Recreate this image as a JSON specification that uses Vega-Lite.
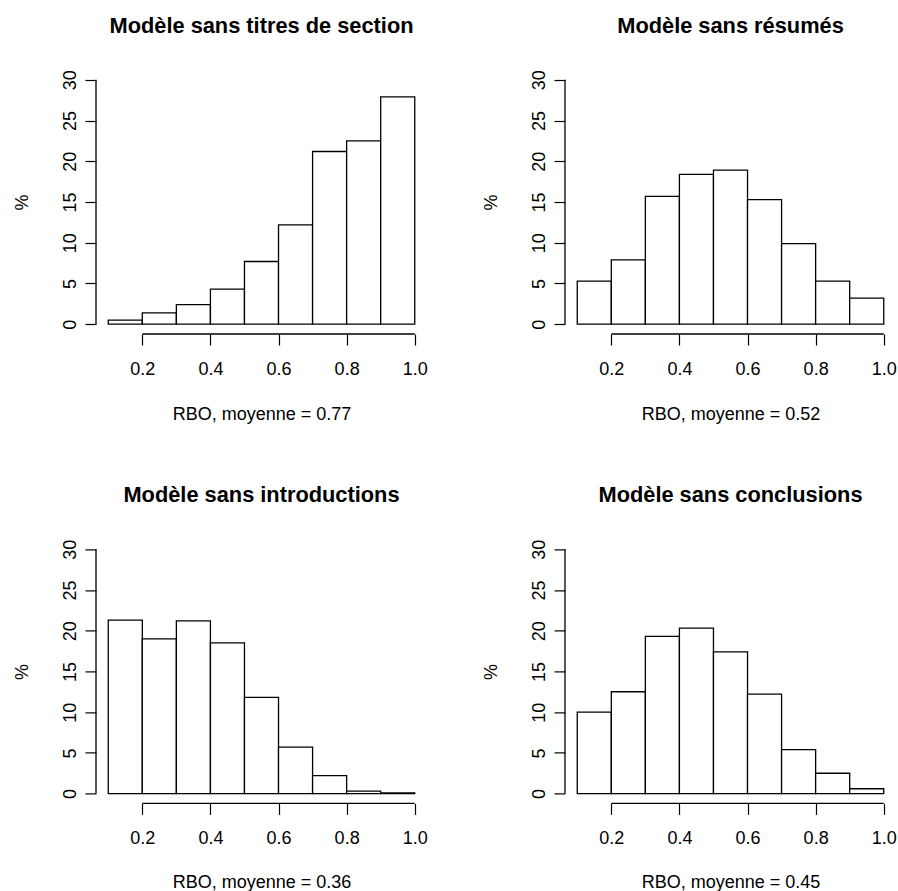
{
  "$schema": "https://vega.github.io/schema/vega-lite/v6.json",
  "autosize": {"type": "pad"},
  "padding": {"left": 13, "top": 15, "right": 0, "bottom": 0},
  "background": "white",
  "config": {
    "font": "Liberation Sans",
    "view": {"stroke": null},
    "axis": {
      "domain": false, "grid": false, "tickColor": "black", "tickSize": 11, "tickWidth": 1.2,
      "labelColor": "black", "labelFontSize": 18, "labelFont": "Liberation Sans",
      "titleFontSize": 18, "titleFontWeight": "normal", "titleColor": "black", "titleFont": "Liberation Sans",
      "labelOverlap": false, "labelFlush": false, "labelBound": false
    },
    "title": {"fontSize": 21.8, "fontWeight": "bold", "color": "black", "font": "Liberation Sans", "anchor": "middle", "frame": "group", "baseline": "alphabetic", "offset": 32}
  },
  "data": {"values": [
    {"panel": 1, "lo": 0.1, "hi": 0.2, "pct": 0.5},
    {"panel": 1, "lo": 0.2, "hi": 0.3, "pct": 1.4},
    {"panel": 1, "lo": 0.3, "hi": 0.4, "pct": 2.4},
    {"panel": 1, "lo": 0.4, "hi": 0.5, "pct": 4.3},
    {"panel": 1, "lo": 0.5, "hi": 0.6, "pct": 7.7},
    {"panel": 1, "lo": 0.6, "hi": 0.7, "pct": 12.2},
    {"panel": 1, "lo": 0.7, "hi": 0.8, "pct": 21.2},
    {"panel": 1, "lo": 0.8, "hi": 0.9, "pct": 22.5},
    {"panel": 1, "lo": 0.9, "hi": 1.0, "pct": 27.9},
    {"panel": 2, "lo": 0.1, "hi": 0.2, "pct": 5.3},
    {"panel": 2, "lo": 0.2, "hi": 0.3, "pct": 7.9},
    {"panel": 2, "lo": 0.3, "hi": 0.4, "pct": 15.7},
    {"panel": 2, "lo": 0.4, "hi": 0.5, "pct": 18.4},
    {"panel": 2, "lo": 0.5, "hi": 0.6, "pct": 18.9},
    {"panel": 2, "lo": 0.6, "hi": 0.7, "pct": 15.3},
    {"panel": 2, "lo": 0.7, "hi": 0.8, "pct": 9.9},
    {"panel": 2, "lo": 0.8, "hi": 0.9, "pct": 5.3},
    {"panel": 2, "lo": 0.9, "hi": 1.0, "pct": 3.2},
    {"panel": 3, "lo": 0.1, "hi": 0.2, "pct": 21.3},
    {"panel": 3, "lo": 0.2, "hi": 0.3, "pct": 19.0},
    {"panel": 3, "lo": 0.3, "hi": 0.4, "pct": 21.2},
    {"panel": 3, "lo": 0.4, "hi": 0.5, "pct": 18.5},
    {"panel": 3, "lo": 0.5, "hi": 0.6, "pct": 11.8},
    {"panel": 3, "lo": 0.6, "hi": 0.7, "pct": 5.7},
    {"panel": 3, "lo": 0.7, "hi": 0.8, "pct": 2.2},
    {"panel": 3, "lo": 0.8, "hi": 0.9, "pct": 0.3},
    {"panel": 3, "lo": 0.9, "hi": 1.0, "pct": 0.1},
    {"panel": 4, "lo": 0.1, "hi": 0.2, "pct": 10.0},
    {"panel": 4, "lo": 0.2, "hi": 0.3, "pct": 12.5},
    {"panel": 4, "lo": 0.3, "hi": 0.4, "pct": 19.3},
    {"panel": 4, "lo": 0.4, "hi": 0.5, "pct": 20.3},
    {"panel": 4, "lo": 0.5, "hi": 0.6, "pct": 17.4},
    {"panel": 4, "lo": 0.6, "hi": 0.7, "pct": 12.2},
    {"panel": 4, "lo": 0.7, "hi": 0.8, "pct": 5.4},
    {"panel": 4, "lo": 0.8, "hi": 0.9, "pct": 2.5},
    {"panel": 4, "lo": 0.9, "hi": 1.0, "pct": 0.6}
  ]},
  "columns": 2,
  "spacing": {"row": 205.4, "column": 138},
  "bounds": "flush",
  "concat": [
    {
      "width": 331, "height": 264,
      "title": "Modèle sans titres de section",
      "layer": [
        {
          "transform": [{"filter": "datum.panel == 1"}],
          "mark": {"type": "rect", "fill": "white", "stroke": "black", "strokeWidth": 1.3},
          "encoding": {
            "x": {"field": "lo", "type": "quantitative", "scale": {"domain": [0.064, 1.036], "nice": false, "zero": false},
                  "axis": {"values": [0.2, 0.4, 0.6, 0.8, 1.0], "format": ".1f", "labelPadding": 29.5, "labelBaseline": "alphabetic", "title": "RBO, moyenne = 0.77", "titleY": 85, "titleBaseline": "alphabetic"}},
            "x2": {"field": "hi"},
            "y": {"field": "pct", "type": "quantitative", "scale": {"domain": [-1.2, 31.2], "nice": false, "zero": false},
                  "axis": {"values": [0, 5, 10, 15, 20, 25, 30], "format": "d", "labelAngle": -90, "labelAlign": "center", "labelBaseline": "alphabetic", "labelPadding": 10, "title": "%", "titleAngle": -90, "titleX": -69, "titleBaseline": "alphabetic"}},
            "y2": {"datum": 0}
          }
        },
        {
          "data": {"values": [{}]},
          "mark": {"type": "rule", "stroke": "black", "strokeWidth": 1.3},
          "encoding": {"x": {"datum": 0.2, "type": "quantitative"}, "x2": {"datum": 1.0}, "y": {"datum": -1.2, "type": "quantitative"}}
        },
        {
          "data": {"values": [{}]},
          "mark": {"type": "rule", "stroke": "black", "strokeWidth": 1.3},
          "encoding": {"x": {"datum": 0.064, "type": "quantitative"}, "y": {"datum": 0, "type": "quantitative"}, "y2": {"datum": 30}}
        }
      ]
    },
    {
      "width": 331, "height": 264,
      "title": "Modèle sans résumés",
      "layer": [
        {
          "transform": [{"filter": "datum.panel == 2"}],
          "mark": {"type": "rect", "fill": "white", "stroke": "black", "strokeWidth": 1.3},
          "encoding": {
            "x": {"field": "lo", "type": "quantitative", "scale": {"domain": [0.064, 1.036], "nice": false, "zero": false},
                  "axis": {"values": [0.2, 0.4, 0.6, 0.8, 1.0], "format": ".1f", "labelPadding": 29.5, "labelBaseline": "alphabetic", "title": "RBO, moyenne = 0.52", "titleY": 85, "titleBaseline": "alphabetic"}},
            "x2": {"field": "hi"},
            "y": {"field": "pct", "type": "quantitative", "scale": {"domain": [-1.2, 31.2], "nice": false, "zero": false},
                  "axis": {"values": [0, 5, 10, 15, 20, 25, 30], "format": "d", "labelAngle": -90, "labelAlign": "center", "labelBaseline": "alphabetic", "labelPadding": 10, "title": "%", "titleAngle": -90, "titleX": -69, "titleBaseline": "alphabetic"}},
            "y2": {"datum": 0}
          }
        },
        {
          "data": {"values": [{}]},
          "mark": {"type": "rule", "stroke": "black", "strokeWidth": 1.3},
          "encoding": {"x": {"datum": 0.2, "type": "quantitative"}, "x2": {"datum": 1.0}, "y": {"datum": -1.2, "type": "quantitative"}}
        },
        {
          "data": {"values": [{}]},
          "mark": {"type": "rule", "stroke": "black", "strokeWidth": 1.3},
          "encoding": {"x": {"datum": 0.064, "type": "quantitative"}, "y": {"datum": 0, "type": "quantitative"}, "y2": {"datum": 30}}
        }
      ]
    },
    {
      "width": 331, "height": 264,
      "title": "Modèle sans introductions",
      "layer": [
        {
          "transform": [{"filter": "datum.panel == 3"}],
          "mark": {"type": "rect", "fill": "white", "stroke": "black", "strokeWidth": 1.3},
          "encoding": {
            "x": {"field": "lo", "type": "quantitative", "scale": {"domain": [0.064, 1.036], "nice": false, "zero": false},
                  "axis": {"values": [0.2, 0.4, 0.6, 0.8, 1.0], "format": ".1f", "labelPadding": 29.5, "labelBaseline": "alphabetic", "title": "RBO, moyenne = 0.36", "titleY": 84.5, "titleBaseline": "alphabetic"}},
            "x2": {"field": "hi"},
            "y": {"field": "pct", "type": "quantitative", "scale": {"domain": [-1.2, 31.2], "nice": false, "zero": false},
                  "axis": {"values": [0, 5, 10, 15, 20, 25, 30], "format": "d", "labelAngle": -90, "labelAlign": "center", "labelBaseline": "alphabetic", "labelPadding": 10, "title": "%", "titleAngle": -90, "titleX": -69, "titleBaseline": "alphabetic"}},
            "y2": {"datum": 0}
          }
        },
        {
          "data": {"values": [{}]},
          "mark": {"type": "rule", "stroke": "black", "strokeWidth": 1.3},
          "encoding": {"x": {"datum": 0.2, "type": "quantitative"}, "x2": {"datum": 1.0}, "y": {"datum": -1.2, "type": "quantitative"}}
        },
        {
          "data": {"values": [{}]},
          "mark": {"type": "rule", "stroke": "black", "strokeWidth": 1.3},
          "encoding": {"x": {"datum": 0.064, "type": "quantitative"}, "y": {"datum": 0, "type": "quantitative"}, "y2": {"datum": 30}}
        }
      ]
    },
    {
      "width": 331, "height": 264,
      "title": "Modèle sans conclusions",
      "layer": [
        {
          "transform": [{"filter": "datum.panel == 4"}],
          "mark": {"type": "rect", "fill": "white", "stroke": "black", "strokeWidth": 1.3},
          "encoding": {
            "x": {"field": "lo", "type": "quantitative", "scale": {"domain": [0.064, 1.036], "nice": false, "zero": false},
                  "axis": {"values": [0.2, 0.4, 0.6, 0.8, 1.0], "format": ".1f", "labelPadding": 29.5, "labelBaseline": "alphabetic", "title": "RBO, moyenne = 0.45", "titleY": 84.5, "titleBaseline": "alphabetic"}},
            "x2": {"field": "hi"},
            "y": {"field": "pct", "type": "quantitative", "scale": {"domain": [-1.2, 31.2], "nice": false, "zero": false},
                  "axis": {"values": [0, 5, 10, 15, 20, 25, 30], "format": "d", "labelAngle": -90, "labelAlign": "center", "labelBaseline": "alphabetic", "labelPadding": 10, "title": "%", "titleAngle": -90, "titleX": -69, "titleBaseline": "alphabetic"}},
            "y2": {"datum": 0}
          }
        },
        {
          "data": {"values": [{}]},
          "mark": {"type": "rule", "stroke": "black", "strokeWidth": 1.3},
          "encoding": {"x": {"datum": 0.2, "type": "quantitative"}, "x2": {"datum": 1.0}, "y": {"datum": -1.2, "type": "quantitative"}}
        },
        {
          "data": {"values": [{}]},
          "mark": {"type": "rule", "stroke": "black", "strokeWidth": 1.3},
          "encoding": {"x": {"datum": 0.064, "type": "quantitative"}, "y": {"datum": 0, "type": "quantitative"}, "y2": {"datum": 30}}
        }
      ]
    }
  ]
}
